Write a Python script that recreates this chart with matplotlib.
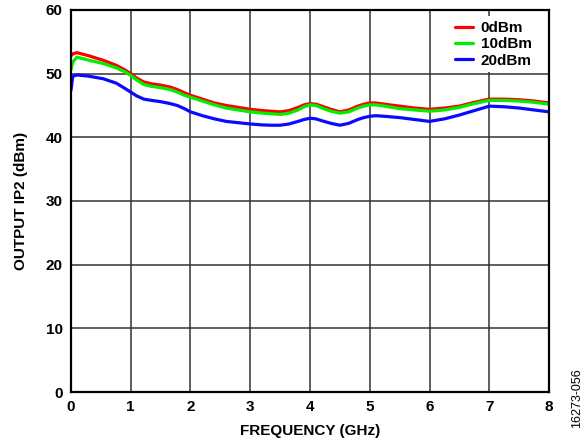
import matplotlib
matplotlib.use("Agg")
import matplotlib.pyplot as plt

plt.rcParams['font.family'] = ['Liberation Sans', 'DejaVu Sans']
plt.rcParams['font.weight'] = 'bold'

freq_ghz = [0.0, 0.03, 0.1, 0.3, 0.54, 0.76, 0.9, 1.0, 1.1, 1.22, 1.35, 1.5, 1.66, 1.78, 1.9,
            2.0, 2.2, 2.4, 2.6, 2.8, 3.0, 3.2, 3.35,
            3.5, 3.65, 3.8, 3.9, 4.0, 4.1, 4.2, 4.35, 4.5, 4.65, 4.8, 4.9, 5.0, 5.1, 5.25, 5.5,
            5.75, 6.0, 6.25, 6.5, 6.75, 7.0, 7.25, 7.5, 7.75, 8.0]

oip2_0dbm = [52.8, 53.1, 53.3, 52.8, 52.1, 51.3, 50.6, 50.0, 49.3, 48.7, 48.4, 48.2, 47.9, 47.5, 47.0,
             46.6, 46.0, 45.4, 45.0, 44.7, 44.4, 44.2, 44.1,
             44.0, 44.2, 44.7, 45.1, 45.3, 45.2, 44.9, 44.4, 44.0, 44.3, 44.9, 45.2, 45.4, 45.4, 45.2, 44.9,
             44.6, 44.4, 44.6, 44.9, 45.5, 46.0, 46.0, 45.9, 45.7, 45.4]

oip2_10dbm = [50.6, 51.8, 52.6, 52.1, 51.6, 50.9, 50.3, 49.7, 49.0, 48.3, 48.0, 47.8, 47.5, 47.1, 46.6,
              46.3, 45.7, 45.1, 44.6, 44.3, 44.0, 43.8, 43.7,
              43.6, 43.8, 44.3, 44.8, 45.1, 45.0, 44.6, 44.1, 43.8, 44.0, 44.6, 44.9, 45.1, 45.1, 44.9, 44.5,
              44.3, 44.1, 44.3, 44.7, 45.3, 45.8, 45.8, 45.7, 45.5, 45.2]

oip2_20dbm = [47.4, 49.6, 49.8, 49.6, 49.2, 48.5, 47.7, 47.1, 46.5, 46.0, 45.8, 45.6, 45.3, 45.0, 44.5,
              44.0, 43.4, 42.9, 42.5, 42.3, 42.1, 41.95, 41.9,
              41.9, 42.1, 42.5, 42.8, 43.0, 42.9, 42.6, 42.2, 41.9, 42.2, 42.8, 43.1, 43.3, 43.4, 43.3, 43.1,
              42.8, 42.5, 42.9, 43.5, 44.2, 44.9, 44.8, 44.6, 44.3, 44.0]

series_labels = ['0dBm', '10dBm', '20dBm']
series_colors = ['#ff0000', '#00ee00', '#0a0aff']

x_ticks = [0, 1, 2, 3, 4, 5, 6, 7, 8]
y_ticks = [0, 10, 20, 30, 40, 50, 60]

fig = plt.figure(figsize=(5.88, 4.44), dpi=100)
ax = fig.add_axes([0.1207, 0.1171, 0.8130, 0.8604])

for vals, lab, col in zip([oip2_0dbm, oip2_10dbm, oip2_20dbm], series_labels, series_colors):
    ax.plot(freq_ghz, vals, color=col, lw=2.3, label=lab,
            solid_joinstyle='round', solid_capstyle='round')

ax.set_xlim(0, 8)
ax.set_ylim(0, 60)
ax.set_xticks(x_ticks)
ax.set_yticks(y_ticks)
ax.tick_params(length=0, labelsize=11, pad=6)
for lbl in ax.get_xticklabels() + ax.get_yticklabels():
    lbl.set_fontweight('bold')

ax.grid(True, color='#333333', lw=1.1)
ax.set_axisbelow(True)
for sp in ax.spines.values():
    sp.set_linewidth(1.6)
    sp.set_color('black')

ax.set_xlabel('FREQUENCY (GHz)', fontsize=11, fontweight='bold', labelpad=7)
ax.set_ylabel('OUTPUT IP2 (dBm)', fontsize=11, fontweight='bold', labelpad=13)

leg = ax.legend(loc='upper right', bbox_to_anchor=(0.983, 0.995), fontsize=11,
                frameon=True, framealpha=1, facecolor='white', edgecolor='none',
                handlelength=1.2, handletextpad=0.5, borderpad=0.3, labelspacing=0.15,
                fancybox=False, borderaxespad=0.3)
for t in leg.get_texts():
    t.set_fontweight('bold')

fig.text(0.981, 0.104, '16273-056', rotation=90, fontsize=9, fontweight='normal',
         ha='center', va='center')

fig.savefig('out.png', dpi=100)
